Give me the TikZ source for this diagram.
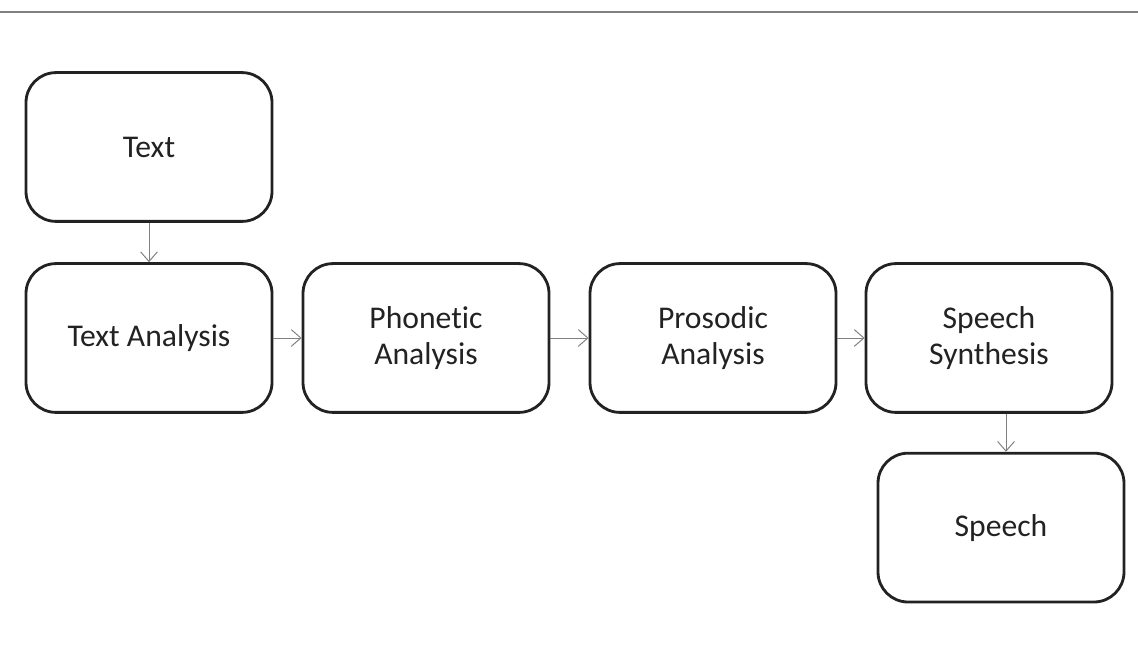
\documentclass[tikz,border=0pt]{standalone}
\usepackage{fontspec}
\setmainfont[Ligatures=NoCommon]{Carlito}
\usepackage{xcolor}
\usetikzlibrary{arrows.meta,positioning}
\definecolor{ink}{RGB}{34,34,34}
\definecolor{wire}{RGB}{128,128,128}
\tikzset{
  stage/.style={rectangle,rounded corners=0.75cm,draw=ink,line width=2pt,fill=white,
    minimum width=6.15cm,minimum height=3.72cm,inner sep=2pt,align=center,
    text=ink,font=\fontsize{22.5}{26}\selectfont},
  ar/.style={-{Straight Barb[length=2.4mm,width=4.2mm]},wire,line width=0.7pt},
}
\begin{document}
\begin{tikzpicture}
  \useasboundingbox (0,0) rectangle (28.45,16.25);
  \draw[wire,line width=1.2pt] (0,15.95) -- (28.45,15.95);
  \node[stage] (text)   at (3.725,12.575){Text};
  \node[stage] (ana)    at (3.725,7.8){Text Analysis};
  \node[stage] (phon)   at (10.65,7.8){Phonetic\\Analysis};
  \node[stage] (pros)   at (17.825,7.8){Prosodic\\Analysis};
  \node[stage] (synth)  at (24.725,7.8){Speech\\Synthesis};
  \node[stage] (speech) at (25.025,3.06){Speech};
  \coordinate (drop) at (25.15,0); % arrow down is off centre
  \draw[ar] (text) -- (ana);
  \draw[ar] (ana) -- (phon);
  \draw[ar] (phon) -- (pros);
  \draw[ar] (pros) -- (synth);
  \draw[ar] (synth.south -| drop) -- (speech.north -| drop);
\end{tikzpicture}
\end{document}
